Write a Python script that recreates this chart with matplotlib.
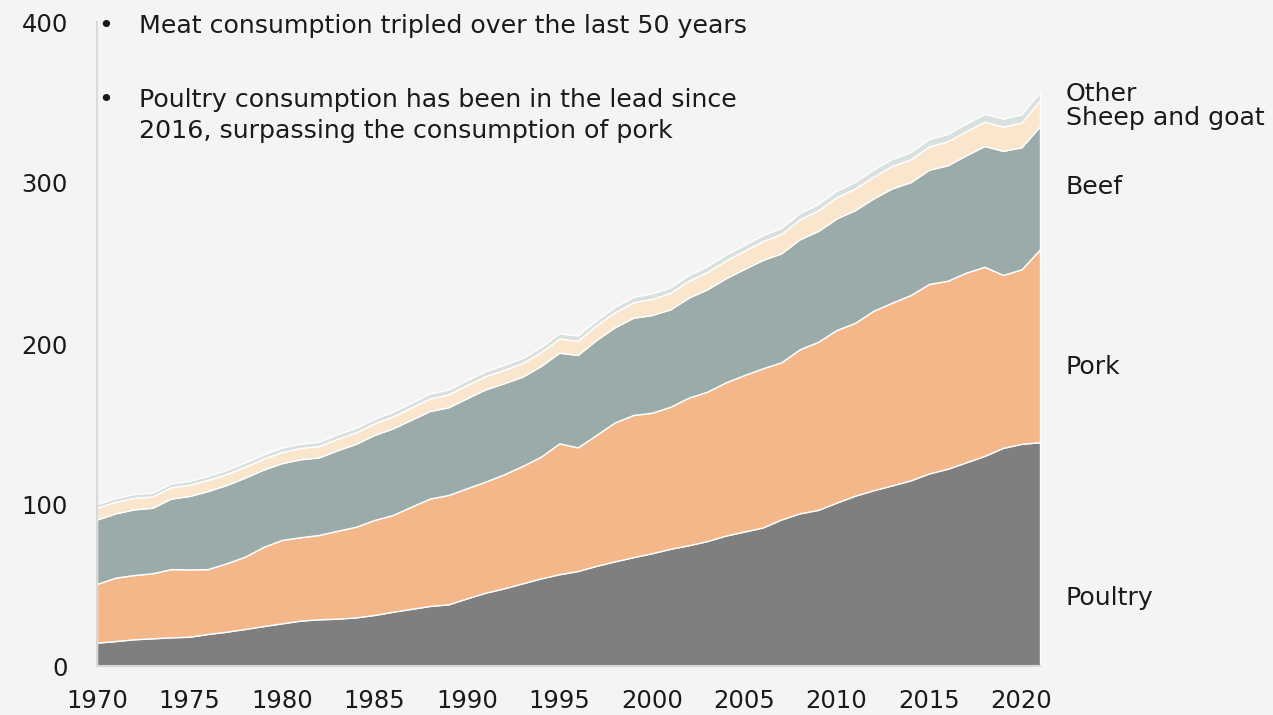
import matplotlib
matplotlib.use("Agg")
import matplotlib.pyplot as plt
import numpy as np

years = list(range(1970, 2022))

# cumulative tops (million tonnes)
poultry = [14.5, 15.5, 16.6, 17.2, 17.8, 18.2, 19.9, 21.3, 23.0, 24.8,
           26.5, 28.2, 29.0, 29.4, 30.2, 31.7, 33.7, 35.5, 37.3, 38.3,
           42.0, 45.5, 48.2, 51.3, 54.4, 57.0, 59.0, 62.2, 65.0, 67.6,
           70.0, 72.8, 75.0, 77.6, 81.0, 83.5, 86.0, 91.0, 94.8, 97.0,
           101.5, 105.8, 109.2, 112.2, 115.3, 119.6, 122.5, 126.5, 130.5, 135.5,
           138.0, 139.0]
pork_top = [51.0, 54.9, 56.5, 57.6, 60.2, 60.0, 60.2, 63.8, 67.9, 74.0,
            78.3, 80.0, 81.4, 84.0, 86.5, 90.7, 93.8, 99.0, 104.0, 106.2,
            110.4, 114.5, 119.0, 124.2, 130.0, 138.3, 135.8, 143.5, 151.3, 155.9,
            157.3, 161.0, 166.7, 170.4, 176.2, 180.7, 184.9, 188.6, 196.7, 201.4,
            208.7, 213.2, 220.7, 225.7, 230.4, 237.3, 239.3, 244.3, 248.0, 242.9,
            246.4, 258.8]
beef_top = [91.0, 94.8, 97.3, 98.3, 104.0, 105.6, 108.7, 112.4, 117.0, 122.0,
            126.0, 128.4, 129.6, 134.0, 138.0, 143.5, 147.6, 153.0, 158.4, 160.7,
            166.3, 171.8, 175.6, 179.7, 186.3, 194.6, 193.2, 202.5, 210.4, 216.3,
            218.0, 221.5, 228.8, 234.0, 240.8, 246.6, 252.2, 256.3, 265.0, 270.2,
            278.0, 283.2, 290.5, 296.7, 300.5, 308.3, 311.0, 317.2, 323.0, 320.0,
            322.2, 335.4]
sheep_goat = [7.3, 7.2, 7.1, 7.0, 7.0, 6.9, 6.9, 6.8, 6.8, 6.8,
              6.9, 7.0, 7.0, 7.1, 7.1, 7.2, 7.4, 7.6, 7.8, 8.0,
              8.2, 8.2, 8.3, 8.4, 8.6, 8.8, 8.8, 9.0, 9.3, 9.6,
              10.0, 10.2, 10.5, 10.8, 11.0, 11.3, 11.6, 12.0, 12.4, 12.8,
              13.2, 13.4, 13.6, 13.9, 14.2, 14.5, 14.8, 15.0, 15.1, 15.0,
              15.4, 16.2]
other = [2.3, 2.3, 2.4, 2.4, 2.4, 2.5, 2.5, 2.5, 2.6, 2.6,
         2.7, 2.7, 2.7, 2.8, 2.8, 2.8, 2.9, 2.9, 3.0, 3.0,
         3.0, 3.0, 3.1, 3.1, 3.1, 3.2, 3.2, 3.2, 3.3, 3.3,
         3.4, 3.4, 3.5, 3.5, 3.6, 3.6, 3.7, 3.8, 3.9, 3.9,
         4.0, 4.1, 4.2, 4.3, 4.4, 4.5, 4.6, 4.7, 4.8, 4.9,
         5.0, 5.1]

series_names = ["Poultry", "Pork", "Beef", "Sheep and goat", "Other"]
colors = ["#7f7f7f", "#f3b78a", "#9aabaa", "#fae5cd", "#d9e1df"]
yticks = [0, 100, 200, 300, 400]
xticks = [1970, 1975, 1980, 1985, 1990, 1995, 2000, 2005, 2010, 2015, 2020]
note_lines = [["Meat consumption tripled over the last 50 years"],
              ["Poultry consumption has been in the lead since",
               "2016, surpassing the consumption of pork"]]

p = np.array(poultry)
pk = np.array(pork_top) - p
bf = np.array(beef_top) - np.array(pork_top)
sg = np.array(sheep_goat)
ot = np.array(other)
stack = [p, pk, bf, sg, ot]

plt.rcParams['font.family'] = ['DejaVu Sans']
FS_TICK = 17.5
FS = 18.2
TXT = "#1a1a1a"
bg = "#f4f4f4"
W, H = 1273, 715
fig = plt.figure(figsize=(W/100, H/100), dpi=100, facecolor=bg)
ax = fig.add_axes([97/W, (H-666)/H, (1040-97)/W, (666-22)/H])
ax.set_facecolor(bg)

ax.stackplot(years, *stack, colors=colors, edgecolor="white", linewidth=1.0)

ax.set_xlim(1970, 2021)
ax.set_ylim(0, 400)
ax.set_xticks(xticks)
ax.set_yticks(yticks)
ax.tick_params(length=0, labelsize=FS_TICK, colors=TXT)
ax.tick_params(axis='y', pad=21)
ax.tick_params(axis='x', pad=16.5)
for s in ["top", "right"]:
    ax.spines[s].set_visible(False)
for s in ["left", "bottom"]:
    ax.spines[s].set_color("#d9d9d9")
    ax.spines[s].set_linewidth(1.5)

# right-side labels (baselines in data units)
label_y = [37.9, 181.4, 293.2, 336.0, 351.0]
for name, yv in zip(series_names, label_y):
    ax.text(2022.4, yv, name, fontsize=FS, color=TXT, va="baseline", ha="left",
            clip_on=False)

# bullet notes, positioned in figure pixels (baseline from top)
def fig_text(x, y_top, s, **kw):
    fig.text(x / W, (H - y_top) / H, s, fontsize=FS, color=TXT, va="baseline", **kw)

baselines = [[33], [107, 138]]
for lines, bls in zip(note_lines, baselines):
    fig_text(106, bls[0], "•", ha="center")
    for s, b in zip(lines, bls):
        fig_text(139, b, s, ha="left")

fig.savefig("out.png", dpi=100, facecolor=bg)
